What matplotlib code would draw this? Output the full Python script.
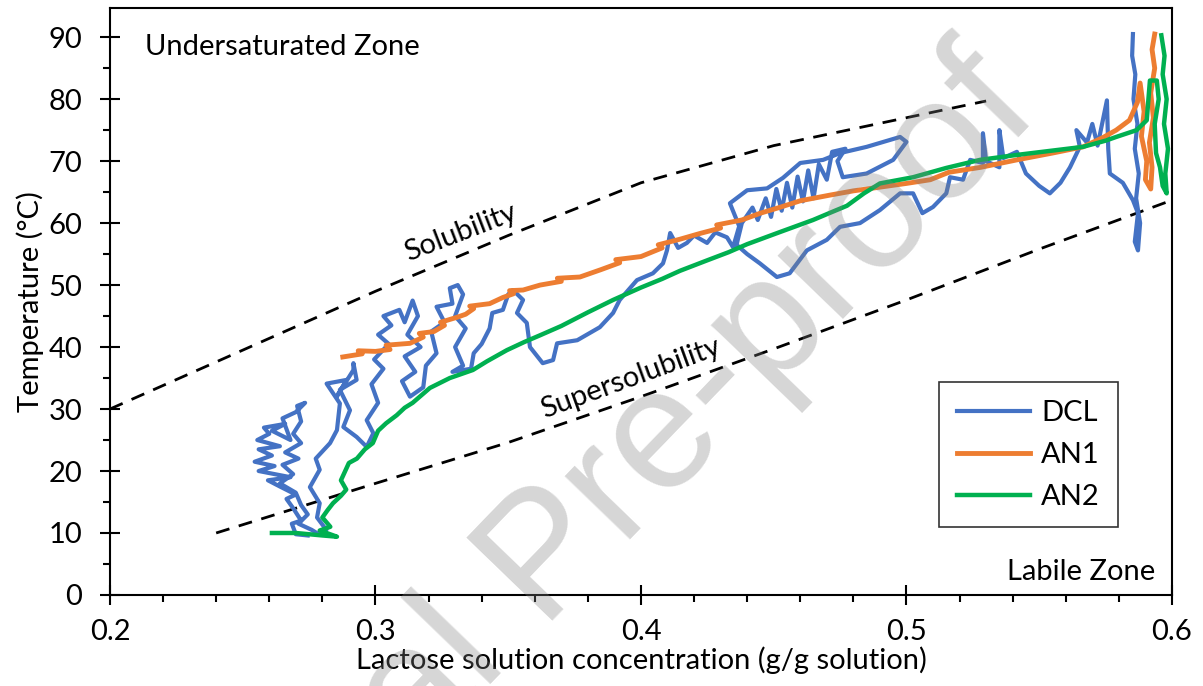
import matplotlib
matplotlib.use('Agg')
from matplotlib import pyplot as plt
from matplotlib.ticker import MultipleLocator

plt.rcParams['font.family'] = ['Lato', 'DejaVu Sans']

#######################################################################################################################
# data
#######################################################################################################################

# solubility / supersolubility boundary curves
sol_x = [0.20, 0.25, 0.30, 0.35, 0.40, 0.45, 0.50, 0.53]
sol_y = [30.0, 39.5, 49.0, 58.0, 66.5, 72.5, 77.0, 79.7]
super_x = [0.24, 0.30, 0.35, 0.40, 0.45, 0.50, 0.55, 0.60]
super_y = [10.0, 18.0, 24.6, 32.0, 39.7, 47.6, 55.8, 63.7]

# DCL trajectory
dcl_x = [0.2745, 0.2700, 0.2685, 0.2720, 0.2690, 0.2665, 0.2700, 0.2640, 0.2595, 0.2680,
         0.2560, 0.2620, 0.2545, 0.2610, 0.2560, 0.2640, 0.2555, 0.2600, 0.2580, 0.2660,
         0.2610, 0.2680, 0.2650, 0.2700, 0.2735, 0.2705, 0.2720, 0.2690, 0.2720, 0.2660,
         0.2710, 0.2650, 0.2690, 0.2640, 0.2700, 0.2720, 0.2745, 0.2710, 0.2760, 0.2790,
         0.2815, 0.2780, 0.2790, 0.2753, 0.2790, 0.2775, 0.2829, 0.2855, 0.2866, 0.2816,
         0.2891, 0.2854, 0.2917, 0.2917, 0.2929, 0.2866, 0.2904, 0.2879, 0.2929, 0.2967,
         0.2992, 0.2967, 0.3010, 0.2985, 0.3030, 0.2995, 0.3050, 0.3010, 0.3060, 0.3030,
         0.3090, 0.3110, 0.3140, 0.3160, 0.3120, 0.3170, 0.3110, 0.3150, 0.3100, 0.3130,
         0.3180, 0.3190, 0.3230, 0.3210, 0.3260, 0.3230, 0.3290, 0.3280, 0.3310, 0.3330,
         0.3300, 0.3340, 0.3300, 0.3330, 0.3290, 0.3360, 0.3370, 0.3400, 0.3430, 0.3440,
         0.3480, 0.3500, 0.3518, 0.3556, 0.3533, 0.3570, 0.3582, 0.3630, 0.3669, 0.3684,
         0.3760, 0.3845, 0.3895, 0.3920, 0.3985, 0.4045, 0.4083, 0.4098, 0.4110, 0.4140,
         0.4173, 0.4200, 0.4249, 0.4280, 0.4324, 0.4347, 0.4370, 0.4335, 0.4400, 0.4475,
         0.4535, 0.4600, 0.4686, 0.4750, 0.4850, 0.4976, 0.5000, 0.4950, 0.4850, 0.4760,
         0.4740, 0.4770, 0.4720, 0.4700, 0.4670, 0.4650, 0.4630, 0.4610, 0.4590, 0.4570,
         0.4550, 0.4530, 0.4510, 0.4490, 0.4470, 0.4440, 0.4420, 0.4380, 0.4360, 0.4400,
         0.4448, 0.4512, 0.4560, 0.4625, 0.4700, 0.4750, 0.4825, 0.4900, 0.4976, 0.5025,
         0.5060, 0.5100, 0.5150, 0.5164, 0.5213, 0.5240, 0.5288, 0.5288, 0.5300, 0.5350,
         0.5350, 0.5365, 0.5416, 0.5450, 0.5500, 0.5540, 0.5580, 0.5616, 0.5653, 0.5640,
         0.5680, 0.5700, 0.5720, 0.5755, 0.5760, 0.5766, 0.5815, 0.5853, 0.5872, 0.5860,
         0.5872, 0.5880, 0.5865, 0.5875, 0.5860, 0.5870, 0.5855, 0.5862, 0.5850, 0.5853]
dcl_y = [9.6, 9.8, 11.5, 12.0, 14.0, 15.5, 16.2, 17.5, 18.5, 19.0,
         20.0, 20.8, 21.5, 22.5, 23.5, 24.0, 25.0, 26.0, 27.0, 27.6,
         26.5, 25.0, 28.5, 29.5, 31.0, 30.5, 28.0, 26.0, 24.5, 23.0,
         22.0, 21.0, 19.5, 18.0, 16.5, 14.5, 13.0, 11.5, 10.5, 9.7,
         10.5, 12.5, 14.8, 17.4, 20.2, 22.0, 24.5, 26.6, 30.9, 34.1,
         34.7, 32.0, 36.3, 37.4, 34.7, 33.1, 29.8, 27.1, 25.5, 23.9,
         26.1, 28.2, 31.0, 34.0, 36.5, 38.0, 40.5, 42.0, 43.5, 45.0,
         46.0, 44.0, 47.5, 45.0, 42.0, 40.0, 38.5, 36.0, 34.5, 32.0,
         33.5, 37.0, 39.0, 42.5, 44.0, 46.5, 47.0, 49.5, 50.0, 48.5,
         45.0, 43.0, 40.0, 37.0, 36.0, 36.5, 39.0, 40.5, 43.0, 45.5,
         46.0, 48.5, 49.2, 47.6, 45.5, 43.9, 40.0, 37.4, 37.9, 40.6,
         41.1, 43.2, 45.5, 47.6, 50.8, 51.9, 53.5, 55.6, 58.4, 56.0,
         56.8, 58.0, 56.8, 58.5, 57.7, 56.1, 59.5, 63.2, 65.3, 65.6,
         67.3, 69.7, 70.2, 71.3, 72.3, 73.9, 73.1, 70.2, 68.0, 67.4,
         70.0, 72.0, 71.5, 67.0, 69.5, 64.0, 68.5, 63.5, 67.5, 62.5,
         66.5, 62.0, 65.5, 61.0, 64.0, 60.5, 62.5, 60.0, 56.5, 55.0,
         53.5, 51.3, 51.9, 55.6, 57.3, 59.4, 60.0, 62.1, 64.8, 64.8,
         61.6, 62.6, 64.8, 67.4, 67.0, 70.2, 69.7, 74.5, 70.0, 69.0,
         75.0, 70.5, 71.5, 68.0, 66.0, 64.8, 66.5, 69.0, 72.3, 75.0,
         73.0, 76.0, 72.5, 79.8, 72.0, 68.0, 66.5, 63.7, 61.6, 57.0,
         55.6, 60.0, 64.0, 68.0, 72.0, 76.0, 80.0, 84.0, 87.0, 90.5]

# AN1 trajectory
an1_x = [0.2877, 0.2950, 0.2935, 0.3000, 0.3055, 0.3040, 0.3100, 0.3130, 0.3180, 0.3165,
         0.3220, 0.3260, 0.3245, 0.3307, 0.3340, 0.3370, 0.3355, 0.3430, 0.3480, 0.3520,
         0.3505, 0.3556, 0.3620, 0.3700, 0.3685, 0.3770, 0.3850, 0.3920, 0.3905, 0.4000,
         0.4080, 0.4065, 0.4147, 0.4220, 0.4300, 0.4285, 0.4380, 0.4450, 0.4520, 0.4600,
         0.4710, 0.4800, 0.4900, 0.5000, 0.5090, 0.5160, 0.5280, 0.5416, 0.5550, 0.5665,
         0.5740, 0.5790, 0.5840, 0.5870, 0.5880, 0.5895, 0.5885, 0.5905, 0.5900, 0.5920,
         0.5925, 0.5915, 0.5930, 0.5920, 0.5935, 0.5925, 0.5935]
an1_y = [38.4, 38.9, 39.4, 39.3, 39.6, 40.3, 40.5, 40.6, 41.6, 42.2,
         42.5, 43.5, 44.0, 44.8, 45.3, 46.2, 46.6, 47.0, 48.0, 48.6,
         49.1, 49.2, 50.0, 50.6, 51.1, 51.3, 52.5, 53.6, 54.1, 54.6,
         56.0, 56.5, 57.4, 58.3, 59.2, 59.7, 60.5, 61.6, 62.5, 63.6,
         64.5, 65.2, 65.8, 66.4, 67.0, 68.2, 69.0, 70.2, 71.3, 72.3,
         73.8, 75.0, 76.6, 79.5, 82.6, 78.0, 74.0, 70.0, 67.0, 65.5,
         69.0, 73.0, 77.0, 81.0, 85.0, 88.0, 90.5]

# AN2 trajectory
an2_x = [0.2610, 0.2700, 0.2800, 0.2855, 0.2790, 0.2830, 0.2800, 0.2820, 0.2840, 0.2870,
         0.2890, 0.2870, 0.2900, 0.2930, 0.2960, 0.2990, 0.3010, 0.3040, 0.3080, 0.3110,
         0.3140, 0.3205, 0.3280, 0.3367, 0.3420, 0.3495, 0.3560, 0.3620, 0.3700, 0.3800,
         0.3895, 0.4000, 0.4080, 0.4147, 0.4250, 0.4330, 0.4400, 0.4520, 0.4648, 0.4720,
         0.4776, 0.4840, 0.4900, 0.5025, 0.5150, 0.5277, 0.5416, 0.5550, 0.5665, 0.5750,
         0.5790, 0.5867, 0.5905, 0.5917, 0.5943, 0.5950, 0.5935, 0.5940, 0.5955, 0.5965,
         0.5980, 0.5975, 0.5985, 0.5970, 0.5980, 0.5965, 0.5972, 0.5960]
an2_y = [10.0, 10.0, 9.6, 9.4, 10.4, 11.0, 12.5, 13.7, 14.8, 16.0,
         17.0, 18.5, 21.3, 22.0, 23.5, 24.5, 26.5, 27.7, 29.0, 30.2,
         31.0, 33.4, 35.0, 36.3, 37.7, 39.5, 40.8, 41.9, 43.4, 45.6,
         47.6, 49.6, 51.0, 52.3, 54.0, 55.3, 56.6, 58.5, 60.5, 61.8,
         62.8, 64.8, 66.4, 67.4, 68.9, 70.2, 71.0, 71.7, 72.3, 73.3,
         73.9, 75.0, 76.6, 83.0, 83.0, 80.0, 76.0, 71.3, 69.0, 66.0,
         64.8, 68.0, 72.0, 76.0, 80.0, 84.0, 87.0, 90.3]

#######################################################################################################################
# plotting
#######################################################################################################################
fig = plt.figure(figsize=(12.03, 6.86), dpi=100)
ax = fig.add_axes([0.0914, 0.1327, 0.8828, 0.8556])

ax.plot(sol_x, sol_y, color='black', linestyle=(0, (5, 3.5)), linewidth=2)
ax.plot(super_x, super_y, color='black', linestyle=(0, (5, 3.5)), linewidth=2)

ax.plot(dcl_x, dcl_y, color='#4472C4', linewidth=3, label='DCL', solid_joinstyle='round')
ax.plot(an1_x, an1_y, color='#ED7D31', linewidth=3.5, label='AN1', solid_joinstyle='round')
ax.plot(an2_x, an2_y, color='#00B050', linewidth=3.2, label='AN2', solid_joinstyle='round')

ax.set_xlim(0.2, 0.6)
ax.set_ylim(0, 94.7)
ax.xaxis.set_major_locator(MultipleLocator(0.1))
ax.xaxis.set_minor_locator(MultipleLocator(0.02))
ax.yaxis.set_major_locator(MultipleLocator(10))
ax.yaxis.set_minor_locator(MultipleLocator(5))
ax.set_xticks([0.2, 0.3, 0.4, 0.5, 0.6])
ax.set_xticklabels(['0.2', '0.3', '0.4', '0.5', '0.6'])

ax.tick_params(which='major', direction='inout', length=14, width=1.5, labelsize=21, pad=13)
ax.tick_params(which='minor', direction='out', length=5, width=1.5)
ax.tick_params(axis='x', which='major', pad=10)
for s in ax.spines.values():
    s.set_linewidth(1.5)

ax.set_xlabel('Lactose solution concentration (g/g solution)', fontsize=21, labelpad=1)
ax.set_ylabel('Temperature (°C)', fontsize=21, labelpad=3)

ax.text(0.033, 0.934, 'Undersaturated Zone', transform=ax.transAxes, fontsize=21, va='center', ha='left')
ax.text(0.984, 0.039, 'Labile Zone', transform=ax.transAxes, fontsize=21, va='center', ha='right')
ax.text(0.3322, 58.5, 'Solubility', fontsize=21, rotation=21, ha='center', va='center', rotation_mode='anchor')
ax.text(0.3959, 35.0, 'Supersolubility', fontsize=21, rotation=20, ha='center', va='center', rotation_mode='anchor')

leg = ax.legend(loc='upper right', bbox_to_anchor=(0.9625, 0.387), fontsize=21, handlelength=2.5,
                frameon=True, fancybox=False, edgecolor='black', borderpad=0.6, labelspacing=0.55,
                handletextpad=0.4)
leg.get_frame().set_linewidth(1.2)

# watermark
fig.text(0.866, 0.835, 'Journal Pre-proof', fontsize=124, color='0.5', alpha=0.32,
         rotation=46, ha='right', va='baseline', rotation_mode='anchor',
         family=['Liberation Sans Narrow', 'Liberation Sans'], zorder=10)

fig.savefig('out.png', dpi=100)
